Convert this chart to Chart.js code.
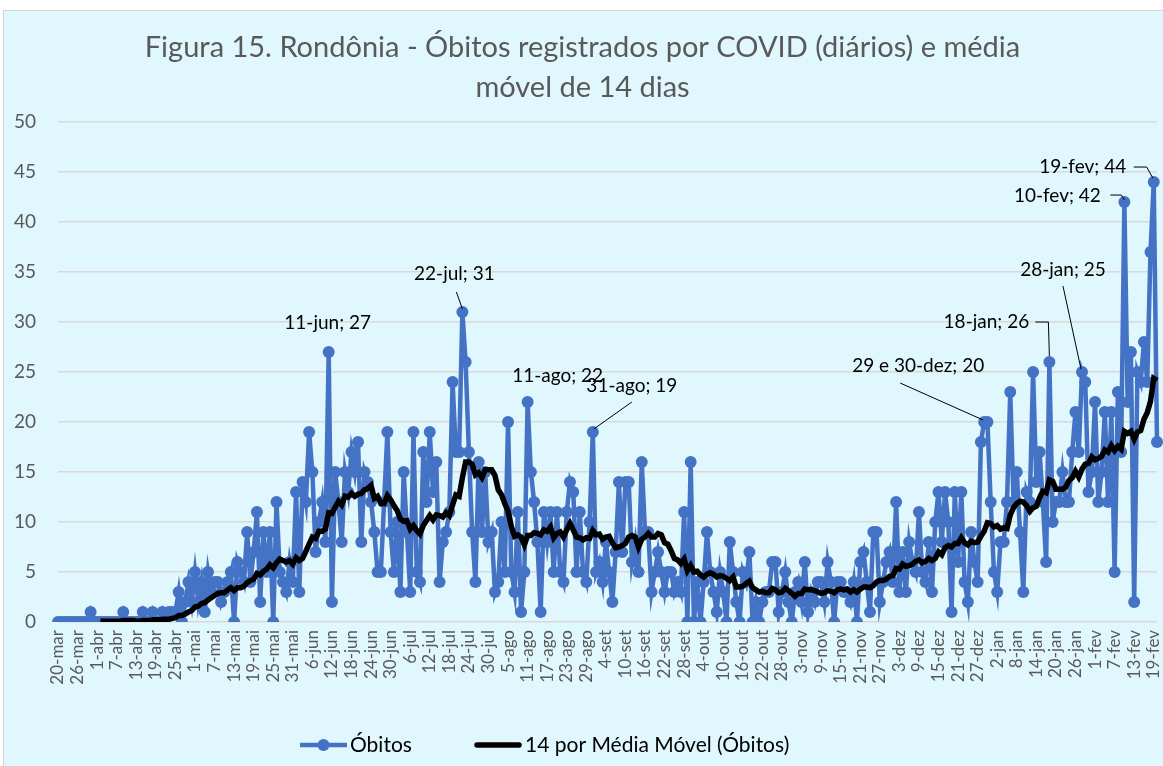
<!DOCTYPE html>
<html>
<head>
<meta charset="utf-8">
<script src="https://cdn.jsdelivr.net/npm/chart.js@4"></script>
<style>
  html, body { margin: 0; padding: 0; background: #fff; }
</style>
</head>
<body>
<canvas id="chart" width="1163" height="766"></canvas>
<script>
// months covered, with number of days shown for each (20-mar-2020 .. 20-fev-2021)
const monthNames = ['mar', 'abr', 'mai', 'jun', 'jul', 'ago', 'set', 'out', 'nov', 'dez', 'jan', 'fev'];
const monthFirstDay = [20, 1, 1, 1, 1, 1, 1, 1, 1, 1, 1, 1];
const monthLastDay = [31, 30, 31, 30, 31, 31, 30, 31, 30, 31, 31, 20];

// daily deaths (Óbitos), one value per day from 20-mar
const obitos = [
  0, 0, 0, 0, 0, 0, 0, 0, 0, 0,
  1, 0, 0, 0, 0, 0, 0, 0, 0, 0,
  1, 0, 0, 0, 0, 0, 1, 0, 0, 1,
  0, 0, 1, 0, 1, 1, 1, 3, 0, 2,
  4, 2, 5, 2, 4, 1, 5, 3, 4, 4,     // 1-mai = index 42
  2, 3, 4, 5, 0, 6, 5, 4, 9, 4,
  7, 11, 2, 9, 5, 9, 0, 12, 5, 4,
  3, 6, 4, 13, 3, 14, 12, 19, 15, 7,
  10, 12, 8, 27, 2, 15, 12, 8, 15, 13,  // 11-jun = 27
  17, 15, 18, 8, 15, 14, 12, 9, 5, 5,
  12, 19, 9, 5, 10, 3, 15, 9, 3, 19,
  5, 4, 17, 12, 19, 13, 16, 4, 8, 9,
  11, 24, 17, 17, 31, 26, 17, 9, 4, 16, // 22-jul = 31
  9, 15, 8, 9, 3, 4, 10, 5, 20, 5,
  3, 11, 1, 5, 22, 15, 12, 8, 1, 11,    // 11-ago = 22
  8, 11, 5, 11, 5, 4, 11, 14, 13, 5,
  11, 5, 4, 10, 19, 5, 6, 4, 8, 5,      // 31-ago = 19
  2, 7, 14, 7, 14, 14, 6, 8, 5, 16,
  9, 9, 3, 5, 7, 5, 3, 5, 5, 3,
  4, 3, 11, 0, 16, 0, 4, 0, 4, 9,
  5, 3, 1, 5, 3, 0, 8, 5, 2, 0,
  5, 4, 7, 0, 2, 0, 2, 3, 3, 6,
  6, 1, 3, 5, 2, 0, 3, 4, 2, 6,
  1, 3, 2, 4, 4, 2, 6, 4, 0, 4,
  4, 3, 3, 2, 4, 0, 6, 7, 4, 1,
  9, 9, 2, 4, 6, 7, 4, 12, 3, 7,
  3, 8, 6, 5, 11, 5, 4, 8, 3, 10,
  13, 8, 13, 10, 1, 13, 6, 13, 4, 2,
  9, 6, 4, 18, 20, 20, 12, 5, 3, 8,     // 29 e 30-dez = 20
  8, 12, 23, 12, 15, 9, 3, 13, 12, 25,
  14, 17, 12, 6, 26, 10, 12, 12, 15, 12, // 18-jan = 26
  12, 17, 21, 17, 25, 24, 13, 15, 22, 12, // 28-jan = 25
  15, 21, 12, 21, 5, 23, 17, 42, 22, 27,  // 10-fev = 42
  2, 25, 24, 28, 24, 37, 44, 18           // 19-fev = 44
];

// callouts shown on the chart: point index, text, offset of the text and leader line (px, relative to the point)
const callouts = [
  { index: 83,  text: '11-jun; 27',      dx: -1,  dy: -29, leader: [] },
  { index: 124, text: '22-jul; 31',      dx: -8,  dy: -38, leader: [[-6, -20], [0, -3]] },
  { index: 144, text: '11-ago; 22',      dx: 30,  dy: -26, leader: [] },
  { index: 164, text: '31-ago; 19',      dx: 39,  dy: -46, leader: [[39, -30], [1, -3]] },
  { index: 284, text: '29 e 30-dez; 20', dx: -66, dy: -56, leader: [[-84, -39], [-1, -2]] },
  { index: 304, text: '18-jan; 26',      dx: -63, dy: -40, leader: [[-14, -40], [-1, -40], [0, -6]] },
  { index: 314, text: '28-jan; 25',      dx: -19, dy: -102, leader: [[-19, -86], [-1, -3]] },
  { index: 327, text: '10-fev; 42',      dx: -67, dy: -6,  leader: [[-14, -7], [-3, -7], [0, -2]] },
  { index: 336, text: '19-fev; 44',      dx: -71, dy: -15, leader: [[-20, -15], [-7, -15], [-1, -4]] }
];

const dayLabels = [];
monthNames.forEach(function(m, k) {
  for (let d = monthFirstDay[k]; d <= monthLastDay[k]; d++) {
    dayLabels.push(d + '-' + m);
  }
});

// 14 period moving average trendline, as Excel draws it
const period = 14;
const mediaMovel = obitos.map(function(v, i) {
  if (i < period - 1) return null;
  let s = 0;
  for (let j = i - period + 1; j <= i; j++) s += obitos[j];
  return s / period;
});

const FONT = 'Lato, "Open Sans", sans-serif';

const backgroundPlugin = {
  id: 'background',
  beforeDraw(chart) {
    const ctx = chart.ctx;
    ctx.save();
    ctx.fillStyle = '#ffffff';
    ctx.fillRect(0, 0, chart.width, chart.height);
    ctx.fillStyle = '#E0F7FD';
    ctx.fillRect(3, 10, chart.width - 3, chart.height - 10);
    ctx.strokeStyle = '#D4D4D4';
    ctx.lineWidth = 1;
    ctx.strokeRect(3.5, 10.5, chart.width + 5, chart.height + 5);
    ctx.restore();
  }
};

const calloutPlugin = {
  id: 'callouts',
  afterDatasetsDraw(chart) {
    const ctx = chart.ctx;
    const meta = chart.getDatasetMeta(0);
    ctx.save();
    ctx.font = '19px ' + FONT;
    ctx.fillStyle = '#000';
    ctx.strokeStyle = '#000';
    ctx.lineWidth = 1;
    ctx.textAlign = 'center';
    ctx.textBaseline = 'middle';
    callouts.forEach(function(c) {
      const p = meta.data[c.index];
      if (!p) return;
      ctx.fillText(c.text, p.x + c.dx, p.y + c.dy);
      if (c.leader.length) {
        ctx.beginPath();
        c.leader.forEach(function(pt, k) {
          if (k === 0) ctx.moveTo(p.x + pt[0], p.y + pt[1]);
          else ctx.lineTo(p.x + pt[0], p.y + pt[1]);
        });
        ctx.stroke();
      }
    });
    ctx.restore();
  }
};

const legendPlugin = {
  id: 'customLegend',
  afterDraw(chart) {
    const ctx = chart.ctx;
    const ds = chart.data.datasets;
    const y = 745;
    ctx.save();
    ctx.font = '21px ' + FONT;
    ctx.fillStyle = '#000';
    ctx.textBaseline = 'middle';
    ctx.textAlign = 'left';
    // Óbitos: line with marker
    ctx.strokeStyle = ds[0].borderColor;
    ctx.lineWidth = 4.5;
    ctx.beginPath();
    ctx.moveTo(300, y);
    ctx.lineTo(347, y);
    ctx.stroke();
    ctx.fillStyle = ds[0].backgroundColor;
    ctx.beginPath();
    ctx.arc(323.5, y, 6, 0, Math.PI * 2);
    ctx.fill();
    ctx.fillStyle = '#000';
    ctx.fillText(ds[0].label, 350, y);
    // moving average
    ctx.strokeStyle = ds[1].borderColor;
    ctx.lineWidth = 5.5;
    ctx.lineCap = 'round';
    ctx.beginPath();
    ctx.moveTo(477, y);
    ctx.lineTo(519, y);
    ctx.stroke();
    ctx.fillText(ds[1].label, 525, y);
    ctx.restore();
  }
};

new Chart(document.getElementById('chart'), {
  type: 'line',
  data: {
    labels: dayLabels,
    datasets: [{
      label: 'Óbitos',
      data: obitos,
      borderColor: '#4472C4',
      backgroundColor: '#4472C4',
      borderWidth: 4.5,
      pointRadius: 6,
      pointHoverRadius: 6,
      pointBorderWidth: 0,
      tension: 0,
      order: 1
    }, {
      label: '14 por Média Móvel (Óbitos)',
      data: mediaMovel,
      borderColor: '#000000',
      backgroundColor: '#000000',
      borderWidth: 5.5,
      pointRadius: 0,
      tension: 0,
      order: 0
    }]
  },
  options: {
    responsive: false,
    animation: false,
    layout: {
      padding: { top: 4, left: 8, right: 6, bottom: 74 }
    },
    plugins: {
      legend: { display: false },
      tooltip: { enabled: false },
      title: {
        display: true,
        text: ['Figura 15. Rondônia - Óbitos registrados por COVID (diários) e média', 'móvel de 14 dias'],
        color: '#595959',
        font: { family: FONT, size: 29, weight: 'normal', lineHeight: 1.38 },
        padding: { top: 24, bottom: 14 }
      }
    },
    scales: {
      x: {
        type: 'category',
        offset: false,
        grid: { display: false, drawTicks: false },
        border: { display: false },
        ticks: {
          autoSkip: false,
          maxRotation: 90,
          minRotation: 90,
          padding: 8,
          color: '#595959',
          font: { family: FONT, size: 17 },
          callback: function(value, index) {
            return index % 6 === 0 ? this.getLabelForValue(value) : null;
          }
        },
        afterFit: function(scale) {
          scale.height = 70;
          scale.paddingLeft = 0;
          scale.paddingRight = 0;
        }
      },
      y: {
        min: 0,
        max: 50,
        grid: { color: '#D9D9D9', lineWidth: 1.5, drawTicks: false },
        border: { display: false },
        ticks: {
          stepSize: 5,
          padding: 22,
          color: '#595959',
          font: { family: FONT, size: 19 }
        },
        afterFit: function(scale) {
          scale.width = 50;
        }
      }
    }
  },
  plugins: [backgroundPlugin, calloutPlugin, legendPlugin]
});
</script>
</body>
</html>
